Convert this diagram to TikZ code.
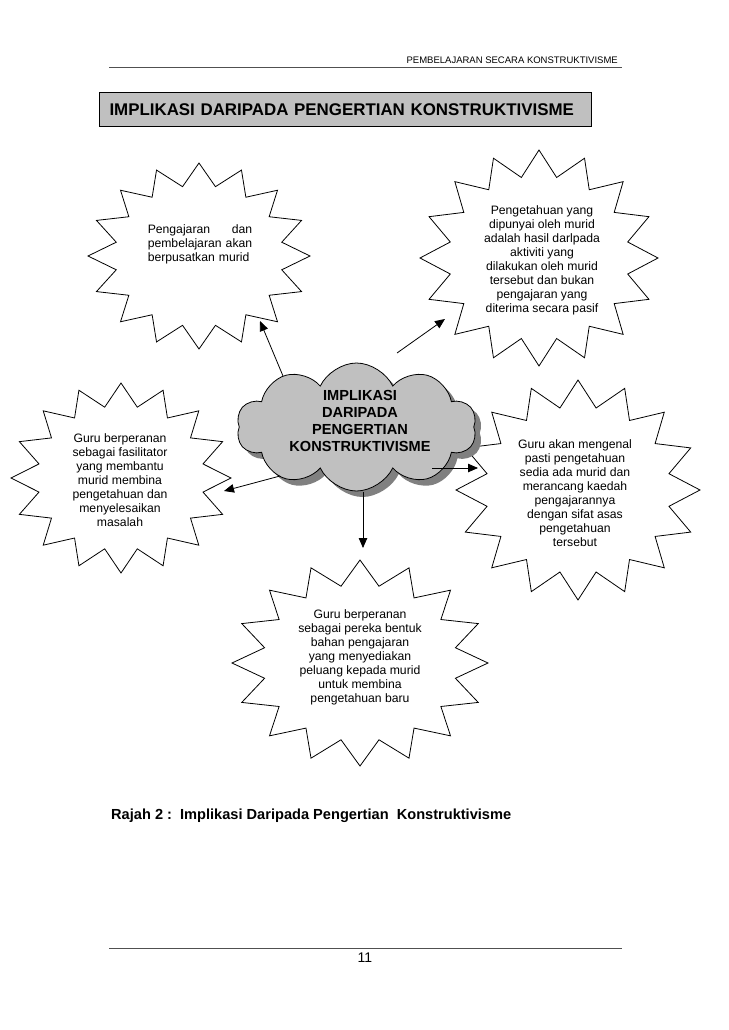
\documentclass[tikz,border=0pt]{standalone}
\usepackage{fontspec}
\setmainfont{Liberation Sans}
\usetikzlibrary{shapes.symbols, arrows.meta, shadows, calc}
\definecolor{cBox}{RGB}{192,192,192}
\definecolor{cShadow}{RGB}{128,128,128}
\definecolor{cRule}{RGB}{80,80,80}
\tikzset{
    burstline/.style={draw=black, line width=0.8pt, fill=white, line join=miter},
    bursttext/.style={align=center, font=\fontsize{12.2}{14}\selectfont, inner sep=0pt},
    cloudbox/.style={cloud, cloud puffs=10, cloud puff arc=130, cloud ignores aspect, draw=black, line width=0.8pt, fill=cBox, minimum width=240pt, minimum height=128pt, inner sep=0pt,
        drop shadow={shadow xshift=6pt, shadow yshift=-6pt, fill=cShadow, opacity=1}},
    cloudtext/.style={align=center, font=\fontsize{14.6}{16.9}\selectfont\bfseries, inner sep=0pt},
    titlebox/.style={draw=black, line width=1pt, fill=cBox, text width=472pt, align=left, inner xsep=10pt, minimum height=34pt, font=\fontsize{16.9}{20}\selectfont\bfseries},
    link/.style={-{Triangle[length=10pt,width=8.5pt]}, line width=0.8pt},
    rule/.style={cRule, line width=0.9pt},
}
% 16-point burst: centre, x radius, y radius
\newcommand{\burst}[3]{%
  \begin{scope}[shift={#1}]
    \draw[burstline] (90:{#2} and {#3})
      \foreach \k in {1,...,31} {-- ({90+11.25*\k}:{(1-0.24*mod(\k,2))*#2} and {(1-0.24*mod(\k,2))*#3})} -- cycle;
  \end{scope}}

\begin{document}
\begin{tikzpicture}[x=1pt, y=-1pt]
    \useasboundingbox (0,0) rectangle (728,1030);
    \fill[white] (0,0) rectangle (728,1030);

    % header and title
    \node[anchor=east, inner sep=0pt, font=\fontsize{9.5}{11}\selectfont] (header) at (618,60) {PEMBELAJARAN SECARA KONSTRUKTIVISME};
    \draw[rule] (109,67) -- (622,67);
    \node[titlebox, anchor=west] (title) at (99,110) {IMPLIKASI DARIPADA PENGERTIAN KONSTRUKTIVISME};

    % bursts
    \burst{(199,256)}{111}{93}
    \burst{(539,258)}{119}{108}
    \burst{(121,478)}{110}{95}
    \burst{(578,490)}{122}{110}
    \burst{(360,663)}{128}{103}

    \node[bursttext, align=left, text width=104.5pt] (tlText) at (200,244)
        {Pengajaran\hfill dan\\pembelajaran akan\\berpusatkan murid};
    \node[bursttext] (trText) at (542,260)
        {Pengetahuan yang\\dipunyai oleh murid\\adalah hasil darlpada\\aktiviti yang\\dilakukan oleh murid\\tersebut dan bukan\\pengajaran yang\\diterima secara pasif};
    \node[bursttext] (mlText) at (120,480)
        {Guru berperanan\\sebagai fasilitator\\yang membantu\\murid membina\\pengetahuan dan\\menyelesaikan\\masalah};
    \node[bursttext] (mrText) at (575,493)
        {Guru akan mengenal\\pasti pengetahuan\\sedia ada murid dan\\merancang kaedah\\pengajarannya\\dengan sifat asas\\pengetahuan\\tersebut};
    \node[bursttext] (bText) at (360,657)
        {Guru berperanan\\sebagai pereka bentuk\\bahan pengajaran\\yang menyediakan\\peluang kepada murid\\untuk membina\\pengetahuan baru};

    % centre cloud
    \node[cloudbox] (cloud) at (356.5,427) {};
    \node[cloudtext] (cloudLabel) at (360,421) {IMPLIKASI\\DARIPADA\\PENGERTIAN\\KONSTRUKTIVISME};

    % arrows
    \coordinate (tlTip) at (260,321);
    \coordinate (trTip) at (445,319);
    \coordinate (mlTip) at (224,491);
    \coordinate (mrTip) at (478,468);
    \coordinate (bTip) at (363,548);
    \draw[link] ($(cloud.center)+(-73.5,-51)$) -- (tlTip);
    \draw[link] ($(cloud.center)+(40.5,-74)$) -- (trTip);
    \draw[link] ($(cloud.center)+(-76.5,49)$) -- (mlTip);
    \draw[link] ($(cloud.center)+(75.5,41)$) -- (mrTip);
    \draw[link] ($(cloud.center)+(6.5,65)$) -- (bTip);

    % caption and footer
    \node[anchor=west, inner sep=0pt, font=\fontsize{14.6}{17}\selectfont\bfseries] (caption) at (111,816)
        {Rajah 2 :\ \ Implikasi Daripada Pengertian\ \ Konstruktivisme};
    \draw[rule] (109,948) -- (622,948);
    \node[inner sep=0pt, font=\fontsize{14}{16}\selectfont] (pageNo) at (365,958) {11};
\end{tikzpicture}
\end{document}
